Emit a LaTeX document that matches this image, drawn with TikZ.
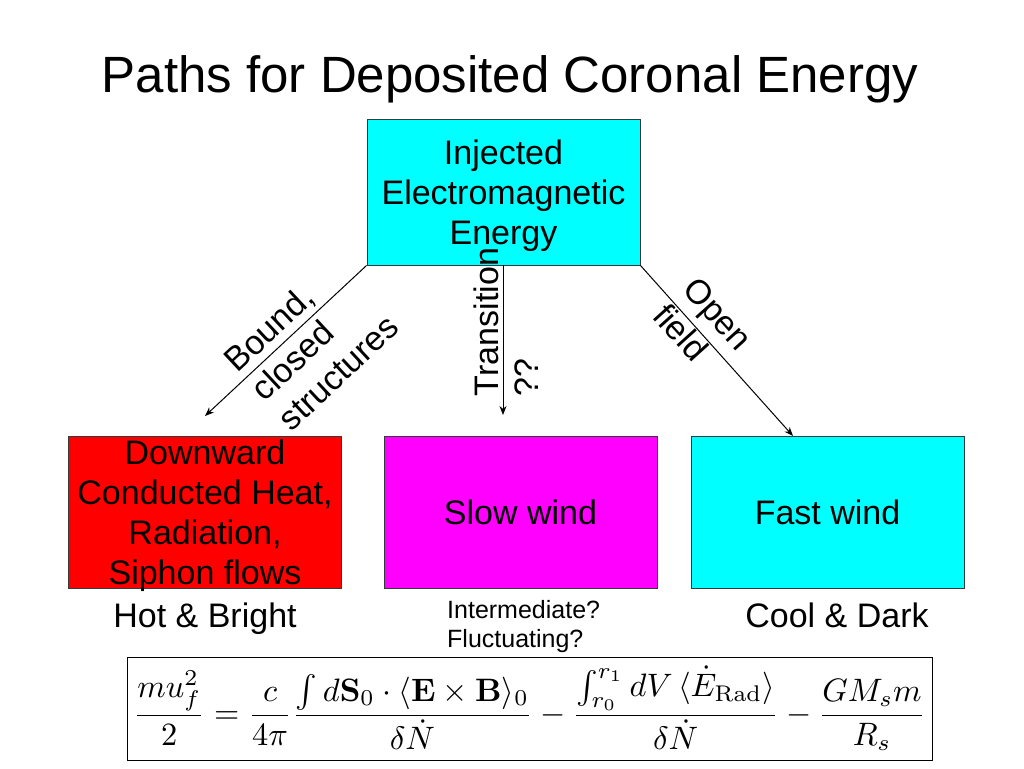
\documentclass[tikz,border=0pt]{standalone}
\usepackage[no-math]{fontspec}
\setmainfont{Liberation Sans}
\usetikzlibrary{arrows.meta}
\definecolor{boxcyan}{RGB}{0,255,255}
\definecolor{boxred}{RGB}{255,0,0}
\definecolor{boxmag}{RGB}{255,0,255}
\definecolor{edge}{RGB}{50,60,60}
\begin{document}
\begin{tikzpicture}[x=1pt,y=-1pt,
  box/.style={draw=edge, line width=1pt, minimum width=273pt, minimum height=152pt, inner sep=0pt, align=center, font=\fontsize{34}{40}\selectfont},
  lbl/.style={font=\fontsize{34}{40}\selectfont, inner sep=0pt},
  conn/.style={line width=1pt, -{Stealth[length=9pt,width=7pt]}}]
\useasboundingbox (0,0) rectangle (1024,768);
\fill[white] (0,0) rectangle (1024,768);
\node[font=\fontsize{51}{60}\selectfont, anchor=base, inner sep=0pt] (title) at (510,92) {Paths for Deposited Coronal Energy};
\node[box, fill=boxcyan, minimum height=146pt] (top) at (503.5,192) {};
\node[lbl, align=center] (toptext) at (503.5,196) {Injected\\Electromagnetic\\Energy};
\node[box, fill=boxred] (down) at (205,512) {};
\node[lbl, align=center] (downtext) at (205,516) {Downward\\Conducted Heat,\\Radiation,\\Siphon flows};
\node[box, fill=boxmag] (slow) at (520.5,512) {Slow wind};
\node[box, fill=boxcyan] (fast) at (827.5,512) {Fast wind};
\coordinate (lend) at (205,416);
\coordinate (mstart) at (503,265);
\coordinate (mend) at (503,415);
\coordinate (rend) at (793,436);
\draw[conn] (top.south west) -- (lend);
\draw[conn] (mstart) -- (mend);
\draw[conn] (top.south east) -- (rend);
\node[lbl, rotate=43, align=left] (bound) at (311,343) {Bound,\\closed\\structures};
\node[lbl, rotate=90, align=left] (trans) at (506,322) {Transition\\??};
\node[lbl, rotate=-48, align=left] (open) at (703,327) {Open\\field};
\node[lbl, anchor=base] (hot) at (205,627) {Hot \& Bright};
\node[lbl, anchor=base] (cool) at (837,627) {Cool \& Dark};
\node[font=\fontsize{25}{29}\selectfont, anchor=base west, align=left, inner sep=0pt] (inter) at (447,647) {Intermediate?\\Fluctuating?};
\node[draw=black, line width=1pt, minimum width=805pt, minimum height=103pt, inner sep=0pt] (eq) at (529.5,708.5)
  {\resizebox{792pt}{!}{$\displaystyle \frac{mu_f^2}{2}=\frac{c}{4\pi}\frac{\int d\mathbf{S}_0\cdot\langle\mathbf{E}\times\mathbf{B}\rangle_0}{\delta\dot N}-\frac{\int_{r_0}^{r_1}dV\,\langle\dot E_{\mathrm{Rad}}\rangle}{\delta\dot N}-\frac{GM_sm}{R_s}$}};
\end{tikzpicture}
\end{document}
